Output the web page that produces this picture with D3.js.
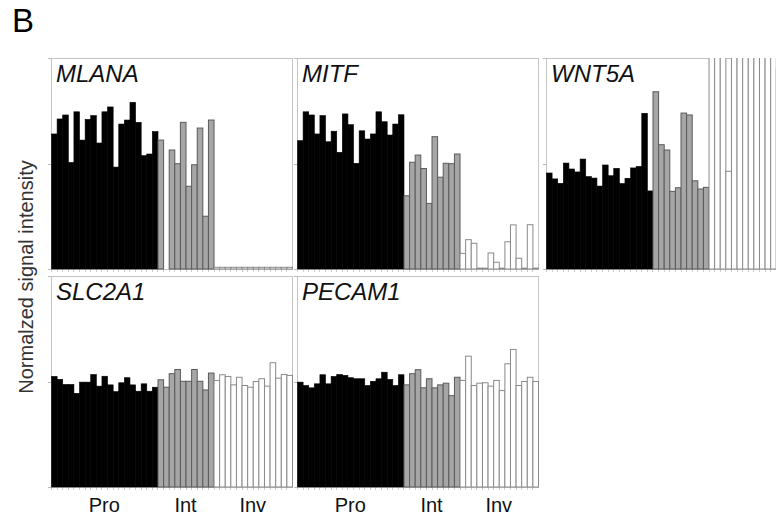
<!DOCTYPE html>
<html><head><meta charset="utf-8">
<script src="https://cdn.jsdelivr.net/npm/d3@7"></script>
<style>body{margin:0;background:#fff}svg{display:block}</style>
</head><body><svg id="c" width="776" height="517"></svg>
<script>
// ---- data ----
const genes = ["MLANA","MITF","WNT5A","SLC2A1","PECAM1"];
const groups = ["Pro","Int","Inv"];
const yTicks = [0,50,100];
const mlanaPro = [64.0,71.1,73.0,50.5,74.5,61.1,70.9,72.7,59.7,74.5,76.8,48.3,68.7,70.6,79.0,69.5,53.7,54.5,65.1];
const mlanaInt = [61.1,0,56.4,49.9,69.5,39.2,49.4,66.8,25.0,70.6];
const mlanaInv = [0.8,0.8,0.8,0.8,0.8,0.8,0.8,0.8,0.8,0.8,0.8,0.8,0.8,0.8];
const mitfPro = [60.8,74.5,73.0,64.0,72.7,60.3,65.3,55.3,73.5,68.4,50.1,65.5,61.6,64.0,74.5,69.8,63.5,68.7,73.1];
const mitfInt = [34.7,50.6,54.0,47.6,31.1,62.7,43.5,50.1,49.9,54.5];
const mitfInv = [7.4,13.9,12.2,0.4,0.4,7.6,3.2,0.4,12.9,20.9,5.1,0.4,21.0,0.4];
const wnt5aPro = [45.5,42.7,40.6,50.2,47.4,46.0,52.1,43.8,43.1,39.3,49.3,44.2,47.7,40.5,43.0,47.9,48.6,73.8,37.0];
const wnt5aInt = [84.0,58.9,56.4,36.8,38.5,73.9,73.0,41.8,37.9,38.7];
const wnt5aInv = [160,160,160,46.3,160,160,160,160,160,160,160,160,94.8,160];
const slc2a1Pro = [52.4,51.0,48.6,48.6,44.4,49.7,49.7,53.3,47.8,52.5,48.4,45.2,49.4,51.8,48.4,45.4,48.9,45.4,47.3];
const slc2a1Int = [50.8,47.3,53.7,55.7,50.1,50.1,55.7,50.1,46.0,54.0];
const slc2a1Inv = [50.5,53.2,52.4,48.4,52.0,48.1,47.3,50.0,51.3,47.8,58.9,51.6,53.3,52.9];
const pecam1Pro = [49.7,48.1,47.0,48.9,53.2,48.9,52.4,53.3,52.9,51.8,51.3,51.3,48.1,50.1,51.3,54.4,51.0,48.1,53.2];
const pecam1Int = [48.4,53.7,55.6,47.0,51.3,47.0,48.4,49.2,43.3,52.0];
const pecam1Inv = [50.5,62.0,48.1,49.2,49.4,47.8,50.5,45.7,58.4,65.2,48.1,50.0,52.0,50.0];

const seriesByGene = {
  MLANA:[mlanaPro,mlanaInt,mlanaInv],
  MITF:[mitfPro,mitfInt,mitfInv],
  WNT5A:[wnt5aPro,wnt5aInt,wnt5aInv],
  SLC2A1:[slc2a1Pro,slc2a1Int,slc2a1Inv],
  PECAM1:[pecam1Pro,pecam1Int,pecam1Inv]
};

// ---- layout ----
const svg = d3.select("#c");
const panelX = [51,297,546], panelY = [58,276], PW = 241, PH = 211;
const styles = [
  {fill:"#000", stroke:"#000", sw:0.6},
  {fill:"#a6a6a6", stroke:"#5a5a5a", sw:1},
  {fill:"#fff", stroke:"#8a8a8a", sw:1}
];

svg.append("text").attr("x",12).attr("y",32)
  .attr("font-family","Liberation Sans, Arial, sans-serif").attr("font-size",33).text("B");

svg.append("text")
  .attr("transform","translate(33,277) rotate(-90)")
  .attr("text-anchor","middle")
  .attr("font-family","Liberation Sans, Arial, sans-serif").attr("font-size",20)
  .attr("fill","#333")
  .text("Normalzed signal intensity");

genes.forEach((g,gi)=>{
  const col = gi%3, row = Math.floor(gi/3);
  const x0 = panelX[col], y0 = panelY[row];
  const series = seriesByGene[g];
  const flat = [];
  series.forEach((arr,si)=>arr.forEach(v=>flat.push({v,si,i:flat.length})));
  const x = d3.scaleBand().domain(flat.map(d=>d.i)).range([x0,x0+PW]).padding(0);
  const y = d3.scaleLinear().domain([0,100]).range([y0+PH,y0]);
  const gp = svg.append("g");

  // frame
  gp.append("rect").attr("x",x0+0.5).attr("y",y0+0.5).attr("width",PW).attr("height",PH)
    .attr("fill","none").attr("stroke","#c4c4c4").attr("stroke-width",1);
  // left ticks
  gp.selectAll(".yt").data(yTicks).enter().append("line")
    .attr("x1",x0-3).attr("x2",x0+0.5)
    .attr("y1",d=>Math.round(y(d))+0.5).attr("y2",d=>Math.round(y(d))+0.5)
    .attr("stroke","#bbb");
  // bottom axis ticks
  gp.selectAll(".xt").data(flat).enter().append("line")
    .attr("x1",d=>Math.round(x(d.i))+0.5).attr("x2",d=>Math.round(x(d.i))+0.5)
    .attr("y1",y0+PH).attr("y2",y0+PH+3).attr("stroke","#ccc");

  const cid = "clip"+gi;
  svg.append("clipPath").attr("id",cid).append("rect")
    .attr("x",x0).attr("y",y0).attr("width",PW+2).attr("height",PH+2);
  const bars = svg.append("g").attr("clip-path",`url(#${cid})`);
  bars.selectAll("rect").data(flat.filter(d=>d.v>0)).enter().append("rect")
    .attr("x",d=>x(d.i)+0.5)
    .attr("width",x.bandwidth())
    .attr("y",d=>y(d.v))
    .attr("height",d=>y(0)-y(d.v))
    .attr("fill",d=>styles[d.si].fill)
    .attr("stroke",d=>styles[d.si].stroke)
    .attr("stroke-width",d=>styles[d.si].sw);

  svg.append("text").attr("x",x0+5).attr("y",y0+24)
    .attr("font-family","Liberation Sans, Arial, sans-serif").attr("font-style","italic")
    .attr("font-size",24).attr("fill","#111").text(g);

  if(row===1){
    series.forEach((arr,si)=>{
      const start = flat.findIndex(d=>d.si===si);
      const end = start+arr.length-1;
      const cx = (x(start)+x(end)+x.bandwidth())/2;
      svg.append("text").attr("x",cx).attr("y",512).attr("text-anchor","middle")
        .attr("font-family","Liberation Sans, Arial, sans-serif").attr("font-size",20)
        .attr("fill","#111").text(groups[si]);
    });
  }
});
</script></body></html>
